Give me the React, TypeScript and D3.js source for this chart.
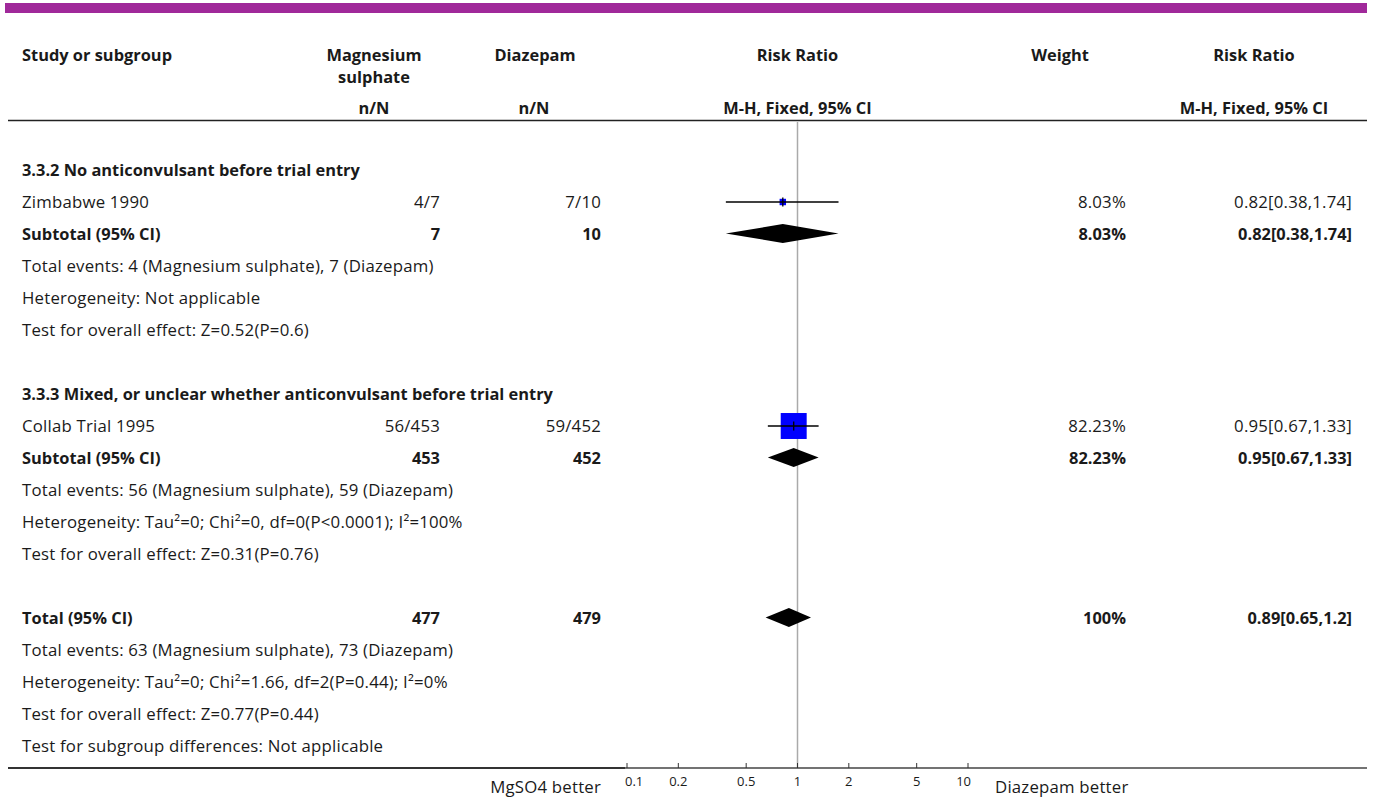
import React from "react";
import * as d3 from "d3";

// ---- Data ----
const groupTitles = [
  "3.3.2 No anticonvulsant before trial entry",
  "3.3.3 Mixed, or unclear whether anticonvulsant before trial entry",
];
const studyNames = ["Zimbabwe 1990", "Collab Trial 1995"];
const studyGroup = [0, 1];
const mgEvents = [4, 56];
const mgTotals = [7, 453];
const dzEvents = [7, 59];
const dzTotals = [10, 452];
const studyWeights = [8.03, 82.23];
const studyRR = [0.82, 0.95];
const studyLo = [0.38, 0.67];
const studyHi = [1.74, 1.33];

const subMgN = [7, 453];
const subDzN = [10, 452];
const subWeights = [8.03, 82.23];
const subRR = [0.82, 0.95];
const subLo = [0.38, 0.67];
const subHi = [1.74, 1.33];
const subInfo = [
  [
    "Total events: 4 (Magnesium sulphate), 7 (Diazepam)",
    "Heterogeneity: Not applicable",
    "Test for overall effect: Z=0.52(P=0.6)",
  ],
  [
    "Total events: 56 (Magnesium sulphate), 59 (Diazepam)",
    "Heterogeneity: Tau\u00b2=0; Chi\u00b2=0, df=0(P<0.0001); I\u00b2=100%",
    "Test for overall effect: Z=0.31(P=0.76)",
  ],
];

const totalMgN = 477;
const totalDzN = 479;
const totalWeight = "100%";
const totalRR = 0.89;
const totalLo = 0.65;
const totalHi = 1.2;
const totalInfo = [
  "Total events: 63 (Magnesium sulphate), 73 (Diazepam)",
  "Heterogeneity: Tau\u00b2=0; Chi\u00b2=1.66, df=2(P=0.44); I\u00b2=0%",
  "Test for overall effect: Z=0.77(P=0.44)",
  "Test for subgroup differences: Not applicable",
];

const axisTicks = [0.1, 0.2, 0.5, 1, 2, 5, 10];
const leftLabel = "MgSO4 better";
const rightLabel = "Diazepam better";

const fmtRR = (r: number, lo: number, hi: number) => `${r}[${lo},${hi}]`;

type Row = {
  kind: "heading" | "study" | "subtotal" | "info" | "blank" | "total";
  text?: string;
  idx?: number;
};

function buildRows(): Row[] {
  const rows: Row[] = [];
  groupTitles.forEach((t, g) => {
    rows.push({ kind: "heading", text: t });
    studyNames.forEach((n, i) => {
      if (studyGroup[i] === g) rows.push({ kind: "study", text: n, idx: i });
    });
    rows.push({ kind: "subtotal", text: "Subtotal (95% CI)", idx: g });
    subInfo[g].forEach((s) => rows.push({ kind: "info", text: s }));
    rows.push({ kind: "blank" });
  });
  rows.push({ kind: "total", text: "Total (95% CI)" });
  totalInfo.forEach((s) => rows.push({ kind: "info", text: s }));
  return rows;
}

const FONT = "'Open Sans', sans-serif";

export default function App() {
  const W = 1375;
  const H = 798;
  const rows = buildRows();
  const rowY = d3.scaleLinear().domain([0, 1]).range([170, 202]);
  const x = d3.scaleLog().domain([0.1, 10]).range([627, 968]);
  const boxSize = d3.scalePow().exponent(0.6).domain([0, 100]).range([0, 29.2]);

  const colStudy = 22;
  const colMg = 440;
  const colDz = 601;
  const colW = 1126;
  const colRR = 1352;
  const axisY = 768;
  const fs = 16.8; // regular
  const fb = 16.4; // bold
  const ls = 0.2;
  const ink = "#1a1a1a";

  const diamond = (cy: number, r: number, lo: number, hi: number) => {
    const h = 9.5;
    return `M${x(lo)},${cy} L${x(r)},${cy - h} L${x(hi)},${cy} L${x(r)},${cy + h} Z`;
  };

  const reg = { fontSize: fs, letterSpacing: ls, fill: ink } as const;
  const [x0, x1] = x.range();

  return (
    <svg
      width={W}
      height={H}
      style={{ position: "absolute", left: 0, top: 0, background: "#fff" }}
      fontFamily={FONT}
    >
      <rect x={5} y={3} width={1362} height={10} fill="#a0299a" />

      {/* headers */}
      <g fontWeight="bold" fontSize={fb} fill={ink}>
        <text x={colStudy} y={61}>Study or subgroup</text>
        <text x={374} y={61} textAnchor="middle">Magnesium</text>
        <text x={374} y={83} textAnchor="middle">sulphate</text>
        <text x={374} y={114} textAnchor="middle">n/N</text>
        <text x={535} y={61} textAnchor="middle">Diazepam</text>
        <text x={534} y={114} textAnchor="middle">n/N</text>
        <text x={797.5} y={61} textAnchor="middle">Risk Ratio</text>
        <text x={797.5} y={114} textAnchor="middle">M-H, Fixed, 95% CI</text>
        <text x={1060} y={61} textAnchor="middle">Weight</text>
        <text x={1254} y={61} textAnchor="middle">Risk Ratio</text>
        <text x={1254} y={114} textAnchor="middle">M-H, Fixed, 95% CI</text>
      </g>
      <line x1={8} x2={1367} y1={120.5} y2={120.5} stroke="#222" strokeWidth={1.5} />

      {/* reference line */}
      <line x1={x(1)} x2={x(1)} y1={122} y2={axisY} stroke="#aaa" strokeWidth={1.5} />

      {rows.map((r, i) => {
        const y = rowY(i);
        const ty = y + 6;
        if (r.kind === "blank") return null;
        if (r.kind === "heading")
          return (
            <text key={i} x={colStudy} y={ty} fontSize={fb} fontWeight="bold" fill={ink}>
              {r.text}
            </text>
          );
        if (r.kind === "info")
          return (
            <text key={i} x={colStudy} y={ty} {...reg}>
              {r.text}
            </text>
          );
        if (r.kind === "study") {
          const k = r.idx!;
          const s = boxSize(studyWeights[k]);
          return (
            <g key={i}>
              <text x={colStudy} y={ty} {...reg}>{r.text}</text>
              <text x={colMg} y={ty} {...reg} textAnchor="end">
                {`${mgEvents[k]}/${mgTotals[k]}`}
              </text>
              <text x={colDz} y={ty} {...reg} textAnchor="end">
                {`${dzEvents[k]}/${dzTotals[k]}`}
              </text>
              <text x={colW} y={ty} {...reg} textAnchor="end">
                {`${studyWeights[k].toFixed(2)}%`}
              </text>
              <text x={colRR} y={ty} {...reg} textAnchor="end">
                {fmtRR(studyRR[k], studyLo[k], studyHi[k])}
              </text>
              <rect
                x={x(studyRR[k]) - s / 2}
                y={y - s / 2}
                width={s}
                height={s}
                fill="#0000ff"
              />
              <line x1={x(studyLo[k])} x2={x(studyHi[k])} y1={y} y2={y} stroke="#000" strokeWidth={1.3} />
              <line x1={x(studyRR[k])} x2={x(studyRR[k])} y1={y - 4.5} y2={y + 4.5} stroke="#000" strokeWidth={1.3} />
            </g>
          );
        }
        if (r.kind === "subtotal") {
          const g = r.idx!;
          return (
            <g key={i} fontWeight="bold" fontSize={fb} fill={ink}>
              <text x={colStudy} y={ty}>{r.text}</text>
              <text x={colMg} y={ty} textAnchor="end">{subMgN[g]}</text>
              <text x={colDz} y={ty} textAnchor="end">{subDzN[g]}</text>
              <text x={colW} y={ty} textAnchor="end">{`${subWeights[g].toFixed(2)}%`}</text>
              <text x={colRR} y={ty} textAnchor="end">{fmtRR(subRR[g], subLo[g], subHi[g])}</text>
              <path d={diamond(y - 0.5, subRR[g], subLo[g], subHi[g])} fill="#000" />
            </g>
          );
        }
        return (
          <g key={i} fontWeight="bold" fontSize={fb} fill={ink}>
            <text x={colStudy} y={ty}>{r.text}</text>
            <text x={colMg} y={ty} textAnchor="end">{totalMgN}</text>
            <text x={colDz} y={ty} textAnchor="end">{totalDzN}</text>
            <text x={colW} y={ty} textAnchor="end">{totalWeight}</text>
            <text x={colRR} y={ty} textAnchor="end">{fmtRR(totalRR, totalLo, totalHi)}</text>
            <path d={diamond(y - 0.5, totalRR, totalLo, totalHi)} fill="#000" />
          </g>
        );
      })}

      {/* axis */}
      <line x1={8} x2={x0 - 2} y1={axisY} y2={axisY} stroke="#333" strokeWidth={2} />
      <line x1={x0 - 2} x2={1367} y1={axisY} y2={axisY} stroke="#444" strokeWidth={1.4} />
      {axisTicks.map((t, i) => {
        const first = i === 0;
        const last = i === axisTicks.length - 1;
        const lx = first ? x0 - 2 : last ? x1 + 3 : x(t);
        const anchor = first ? "start" : last ? "end" : "middle";
        return (
          <g key={t}>
            <line x1={x(t)} x2={x(t)} y1={axisY - 5} y2={axisY} stroke="#333" strokeWidth={1} />
            <text x={lx} y={786} fontSize={13} textAnchor={anchor} fill={ink}>
              {String(t)}
            </text>
          </g>
        );
      })}
      <text x={601} y={793} {...reg} textAnchor="end">{leftLabel}</text>
      <text x={995} y={793} {...reg}>{rightLabel}</text>
    </svg>
  );
}
